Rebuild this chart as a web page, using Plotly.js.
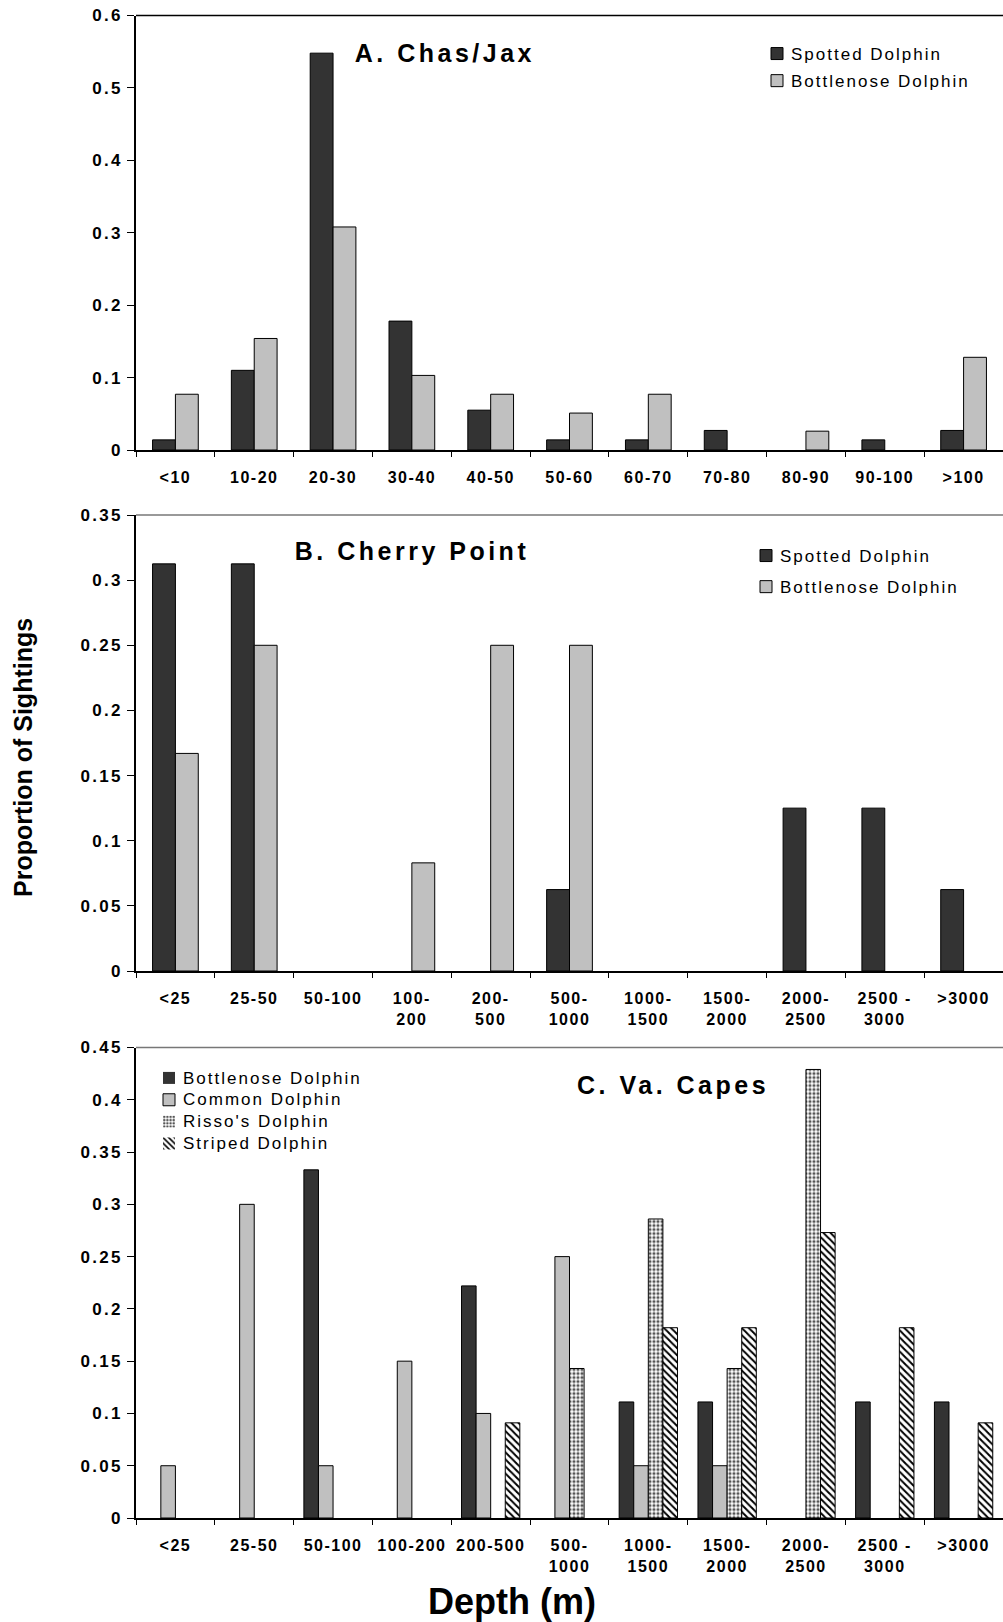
<!DOCTYPE html>
<html><head><meta charset="utf-8">
<script src="https://cdn.plot.ly/plotly-3.0.1.min.js"></script>
<style>
html,body{margin:0;padding:0;background:#fff;}
#chart{width:1003px;height:1622px;}
.xaxislayer-above text{letter-spacing:1.5px;}
.yaxislayer-above text{letter-spacing:2.3px;}
.legendtext,.legend2text,.legend3text{letter-spacing:2px;transform:translateX(-6px);}
.legend3text{font-size:17px !important;}
g.annotation[data-index="0"] text,g.annotation[data-index="1"] text,g.annotation[data-index="2"] text{letter-spacing:3.5px;}
</style></head><body><div id="chart"></div><script>
// ---- Data ----
const catsA = ['<10','10-20','20-30','30-40','40-50','50-60','60-70','70-80','80-90','90-100','>100'];
const spottedA = [0.014,0.110,0.548,0.178,0.055,0.014,0.014,0.027,0,0.014,0.027];
const bottlenoseA = [0.077,0.154,0.308,0.103,0.077,0.051,0.077,0,0.026,0,0.128];

const catsB = ['<25','25-50','50-100','100-<br>200','200-<br>500','500-<br>1000','1000-<br>1500','1500-<br>2000','2000-<br>2500','2500 -<br>3000','>3000'];
const spottedB = [0.3125,0.3125,0,0,0,0.0625,0,0,0.125,0.125,0.0625];
const bottlenoseB = [0.167,0.25,0,0.083,0.25,0.25,0,0,0,0,0];

const catsC = ['<25','25-50','50-100','100-200','200-500','500-<br>1000','1000-<br>1500','1500-<br>2000','2000-<br>2500','2500 -<br>3000','>3000'];
const bottlenoseC = [0,0,0.333,0,0.222,0,0.111,0.111,0,0.111,0.111];
const commonC = [0.05,0.30,0.05,0.15,0.10,0.25,0.05,0.05,0,0,0];
const rissoC = [0,0,0,0,0,0.143,0.286,0.143,0.429,0,0];
const stripedC = [0,0,0,0,0.091,0,0.182,0.182,0.273,0.182,0.091];

// ---- Styling helpers ----
const W = 1003, H = 1622, ML = 136;
const PW = W - ML;
const px = p => (p - ML) / PW;
const py = p => 1 - p / H;
const FONT = 'Arial, "Liberation Sans", sans-serif';
const DARK = '#333333', LIGHT = '#c0c0c0';

function bar(name, x, y, xa, ya, color, off, w, legend, group, pattern) {
  const m = {color: color, line: {color:'#000', width: y.map(v => v > 0 ? 1 : 0)}};
  if (pattern) m.pattern = pattern;
  return {type:'bar', name:name, x:x, y:y, xaxis:xa, yaxis:ya, marker:m,
    offset:off, width:w, legend:legend, legendgroup:group, hoverinfo:'x+y'};
}

const wAB = 0.29, wC = 0.185;
const traces = [
  bar('Spotted Dolphin', catsA, spottedA, 'x', 'y', DARK, -wAB, wAB, 'legend', 'a1'),
  bar('Bottlenose Dolphin', catsA, bottlenoseA, 'x', 'y', LIGHT, 0, wAB, 'legend', 'a2'),
  bar('Spotted Dolphin', catsB, spottedB, 'x2', 'y2', DARK, -wAB, wAB, 'legend2', 'b1'),
  bar('Bottlenose Dolphin', catsB, bottlenoseB, 'x2', 'y2', LIGHT, 0, wAB, 'legend2', 'b2'),
  bar('Bottlenose Dolphin', catsC, bottlenoseC, 'x3', 'y3', DARK, -2*wC, wC, 'legend3', 'c1'),
  bar('Common Dolphin', catsC, commonC, 'x3', 'y3', LIGHT, -wC, wC, 'legend3', 'c2'),
  bar("Risso's Dolphin", catsC, rissoC, 'x3', 'y3', '#ffffff', 0, wC, 'legend3', 'c3',
      {shape:'.', fgcolor:'#555555', bgcolor:'#ffffff', size:4, solidity:0.5}),
  bar('Striped Dolphin', catsC, stripedC, 'x3', 'y3', '#ffffff', wC, wC, 'legend3', 'c4',
      {shape:'\\', fgcolor:'#000000', bgcolor:'#ffffff', size:5, solidity:0.4})
];

function xax(anchor) {
  return {anchor:anchor, domain:[0,1], type:'category', showline:true, linecolor:'#000', linewidth:1.5,
    ticks:'outside', tickson:'boundaries', ticklen:5, tickwidth:1, tickcolor:'#000',
    tickfont:{family:FONT, size:16, weight:700, color:'#000'}, ticklabelstandoff:12,
    showgrid:false, zeroline:false, automargin:false, fixedrange:true};
}
function yax(anchor, dom, top, dt) {
  return {anchor:anchor, domain:dom, range:[0, top], dtick:dt, tick0:0, showline:true, linecolor:'#000', linewidth:1.5,
    ticks:'outside', ticklen:7, tickwidth:1, tickcolor:'#000',
    tickfont:{family:FONT, size:17, weight:700, color:'#000'}, ticklabelstandoff:1,
    showgrid:false, zeroline:false, automargin:false, fixedrange:true};
}

function legendAt(xp, yp, gap, fs) {
  return {x:px(xp), y:py(yp), xanchor:'left', yanchor:'top', bgcolor:'rgba(0,0,0,0)',
    borderwidth:0, font:{family:FONT, size:fs, color:'#000'}, itemwidth:30,
    traceorder:'grouped', tracegroupgap:gap, itemclick:false, itemdoubleclick:false};
}

function topLine(yref, color) {
  return {type:'line', xref:'paper', yref:yref, x0:0, x1:1, y0:1, y1:1, line:{color:color, width:1.5}};
}

function ann(text, xp, yp, size, extra) {
  return Object.assign({text:text, xref:'paper', yref:'paper', x:px(xp), y:py(yp), showarrow:false,
    xanchor:'center', yanchor:'middle', font:{family:FONT, size:size, weight:700, color:'#000'}}, extra || {});
}

const layout = {
  width:W, height:H, margin:{l:ML, r:0, t:0, b:0}, paper_bgcolor:'#fff', plot_bgcolor:'#fff',
  font:{family:FONT, color:'#000'}, showlegend:true, barmode:'overlay',
  xaxis:xax('y'), yaxis:yax('x', [py(450), py(15.5)], 0.6, 0.1),
  xaxis2:xax('y2'), yaxis2:yax('x2', [py(971), py(515)], 0.35, 0.05),
  xaxis3:xax('y3'), yaxis3:yax('x3', [py(1518), py(1047.5)], 0.45, 0.05),
  legend:legendAt(757, 36, 2, 17),
  legend2:legendAt(746, 538, 6, 17),
  legend3:legendAt(149, 1062, 0, 14.5),
  shapes:[topLine('y domain', '#000'), topLine('y2 domain', '#777'), topLine('y3 domain', '#777')],
  annotations:[
    ann('A. Chas/Jax', 445, 53, 25),
    ann('B. Cherry Point', 412, 551, 25),
    ann('C. Va. Capes', 673, 1085, 25),
    ann('Proportion of Sightings', 23, 758, 25, {textangle:-90}),
    ann('Depth (m)', 512, 1601, 36)
  ]
};

Plotly.newPlot('chart', traces, layout, {displayModeBar:false});
</script></body></html>
